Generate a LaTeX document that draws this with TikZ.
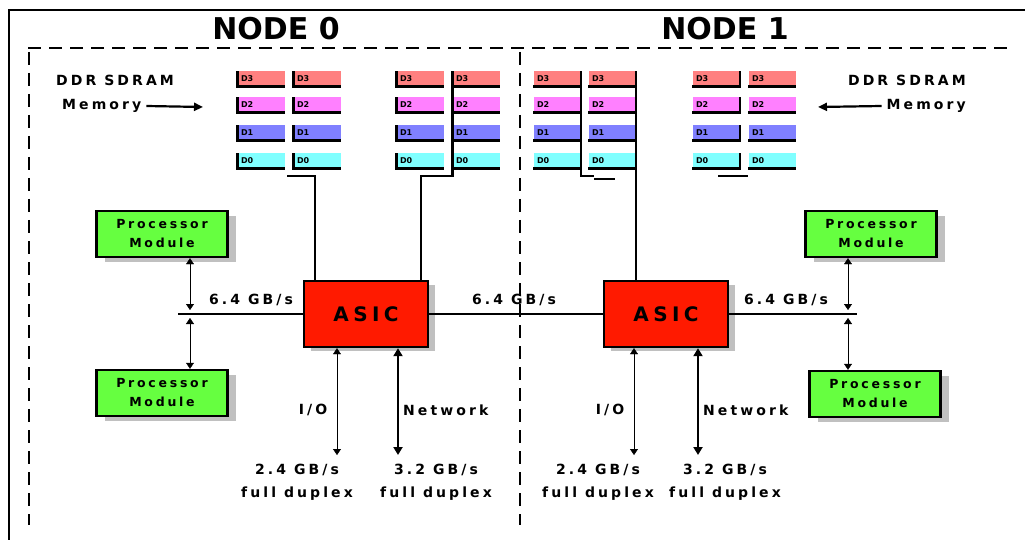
\documentclass[tikz,border=0pt]{standalone}
\usepackage{fontspec}
\setmainfont{DejaVu Sans}
\newfontfamily\bitfont[LetterSpace=22]{DejaVu Sans}
\usetikzlibrary{positioning, arrows.meta, shadows}
\definecolor{asiccol}{RGB}{255,26,0}
\definecolor{proccol}{RGB}{102,255,64}
\definecolor{shadecol}{RGB}{192,192,192}
\definecolor{rowAcol}{RGB}{255,128,128}
\definecolor{rowBcol}{RGB}{255,128,255}
\definecolor{rowCcol}{RGB}{128,128,255}
\definecolor{rowDcol}{RGB}{128,255,255}
\tikzset{
  asic/.style={draw, line width=2.4pt, fill=asiccol, minimum width=124pt,
               minimum height=66pt, inner sep=0pt,
               font=\bitfont\bfseries\fontsize{20}{22}\selectfont,
               drop shadow={shadow xshift=7pt, shadow yshift=-4pt,
                            fill=shadecol, opacity=1}},
  proc box/.style={draw, line width=2.4pt, fill=proccol, minimum width=131pt,
                   minimum height=46pt, inner sep=0pt, align=center,
                   font=\bitfont\bfseries\fontsize{12.5}{19}\selectfont,
                   drop shadow={shadow xshift=8pt, shadow yshift=-5pt,
                                fill=shadecol, opacity=1}},
  dimm/.style={minimum width=47pt, minimum height=15pt, inner sep=0pt,
               text width=40pt, align=left,
               font=\fontsize{8}{8}\selectfont\bfseries},
  dimm edge/.style={line width=2.4pt},
  title/.style={font=\bfseries\fontsize{30}{32}\selectfont},
  rate/.style={font=\bitfont\bfseries\fontsize{14}{23}\selectfont, inner sep=1pt},
  wire/.style={line width=2.4pt},
  bus/.style={line width=2.6pt},
  frame/.style={line width=2.6pt},
  node border/.style={line width=2.4pt, dash pattern=on 13pt off 8pt},
  mem arr/.style={-{Triangle[length=9pt, width=8pt]}, line width=2.2pt},
  tap arr/.style={{Triangle[length=6pt, width=8pt]}-{Triangle[length=6pt, width=8pt]},
                  line width=0.4pt},
  net arr/.style={{Triangle[length=8pt, width=9pt]}-{Triangle[length=8pt, width=9pt]},
                  line width=2.4pt},
}

\begin{document}
\begin{tikzpicture}[x=1pt, y=-1pt]
    \useasboundingbox (0,0) rectangle (1025,540);

    % outer frame and node borders
    \draw[frame] (1025,10) -- (9,10) -- (9,540);
    \draw[node border] (28,48) -- (1008,48);
    \draw[node border] (29,52) -- (29,525);
    \draw[node border, line width=1.8pt] (520,52) -- (520,525);
    \node[title] (title0) at (276,29) {NODE 0};
    \node[title] (title1) at (725,29) {NODE 1};

    % memory banks
    \foreach \r/\y/\c/\t in {1/79/rowAcol/D3, 2/105/rowBcol/D2, 3/133/rowCcol/D1, 4/161/rowDcol/D0} {
      \node[dimm, fill=\c] (m0a\r) at (261,\y) {\t};
      \node[dimm, fill=\c] (m0b\r) at (317,\y) {\t};
      \node[dimm, fill=\c] (m0c\r) at (420,\y) {\t};
      \node[dimm, fill=\c] (m0d\r) at (476,\y) {\t};
      \node[dimm, fill=\c] (m1a\r) at (557,\y) {\t};
      \node[dimm, fill=\c] (m1b\r) at (612,\y) {\t};
      \node[dimm, fill=\c] (m1c\r) at (716,\y) {\t};
      \node[dimm, fill=\c] (m1d\r) at (772,\y) {\t};
      \draw[dimm edge] (m0a\r.north west) |- (m0a\r.south east);
      \draw[dimm edge] (m0b\r.north west) |- (m0b\r.south east);
      \draw[dimm edge] (m0c\r.north west) |- (m0c\r.south east);
      \draw[dimm edge] (m0d\r.north west) |- (m0d\r.south east);
      \draw[dimm edge] (m1a\r.south west) -- (m1a\r.south east);
      \draw[dimm edge] (m1b\r.south west) -- (m1b\r.south east);
      \draw[dimm edge] (m1c\r.south west) -| (m1c\r.north east);
      \draw[dimm edge] (m1d\r.south west) -- (m1d\r.south east);
    }
    \node[rate, anchor=west] (mem0a) at (55,80) {DDR SDRAM};
    \node[rate, anchor=west] (mem0b) at (61,106) {Memory};
    \coordinate (mem0end) at (203,107);
    \draw[mem arr] (mem0b.east) ++(4,0) coordinate (mem0start) -- (mem0end);
    \node[rate, anchor=east] (mem1a) at (967,80) {DDR SDRAM};
    \node[rate, anchor=east] (mem1b) at (967,106) {Memory};
    \coordinate (mem1end) at (818,107);
    \draw[mem arr] (mem1b.west) ++(-4,0) coordinate (mem1start) -- (mem1end);

    % hub chips
    \node[asic] (asic0) at (366,314) {ASIC};
    \node[asic] (asic1) at (666,314) {ASIC};

    % memory wires
    \coordinate (w0a) at (287,176);
    \coordinate (j0a) at (315,176);
    \coordinate (j0b) at (421,176);
    \draw[wire] (w0a) -- (j0a) -- (j0a |- asic0.north);
    \draw[wire] (m0d1.north west) |- (j0b) -- (j0b |- asic0.north);
    \coordinate (j1a) at (594,176);
    \coordinate (s1a) at (594,179);
    \coordinate (s1b) at (615,179);
    \draw[wire] (m1a1.north east) |- (j1a);
    \draw[wire] (s1a) -- (s1b);
    \draw[wire] (m1b1.north east) -- (m1b1.north east |- asic1.north);
    \coordinate (s1c) at (718,176);
    \coordinate (s1d) at (748,176);
    \draw[wire] (s1c) -- (s1d);

    % processors
    \node[proc box] (pm0t) at (162,234) {Processor\\Module};
    \node[proc box] (pm0b) at (162,393) {Processor\\Module};
    \node[proc box] (pm1t) at (871,234) {Processor\\Module};
    \node[proc box] (pm1b) at (875,394) {Processor\\Module};

    % front side bus
    \coordinate (bus0) at (178,314);
    \coordinate (tap0) at (190,314);
    \coordinate (bus1) at (857,314);
    \coordinate (tap1) at (848,314);
    \draw[bus] (bus0) -- (asic0.west);
    \draw[bus] (asic0.east) -- (asic1.west);
    \draw[bus] (asic1.east) -- (bus1);
    \draw[tap arr, shorten >=4pt] (pm0t.south -| tap0) -- (tap0);
    \draw[tap arr, shorten >=4pt] (pm0b.north -| tap0) -- (tap0);
    \draw[tap arr, shorten >=4pt] (pm1t.south -| tap1) -- (tap1);
    \draw[tap arr, shorten >=4pt] (pm1b.north -| tap1) -- (tap1);
    \node[rate] (bw0) at (251,300) {6.4 GB/s};
    \node[rate] (bw01) at (514,300) {6.4 GB/s};
    \node[rate] (bw1) at (786,300) {6.4 GB/s};

    % I/O and network
    \coordinate (io0) at (337,455);
    \coordinate (net0) at (398,455);
    \coordinate (io1) at (634,455);
    \coordinate (net1) at (698,455);
    \draw[tap arr] (asic0.south -| io0) -- (io0);
    \draw[net arr] (asic0.south -| net0) -- (net0);
    \draw[tap arr] (asic1.south -| io1) -- (io1);
    \draw[net arr] (asic1.south -| net1) -- (net1);
    \node[rate] (io0 lbl) at (313,410) {I/O};
    \node[rate, anchor=west] (net0 lbl) at (402,410) {Network};
    \node[rate] (io1 lbl) at (610,410) {I/O};
    \node[rate, anchor=west] (net1 lbl) at (702,410) {Network};
    \node[rate, align=center] (io0 bw) at (297,482) {2.4 GB/s\\full duplex};
    \node[rate, align=center] (net0 bw) at (436,482) {3.2 GB/s\\full duplex};
    \node[rate, align=center] (io1 bw) at (598,482) {2.4 GB/s\\full duplex};
    \node[rate, align=center] (net1 bw) at (725,482) {3.2 GB/s\\full duplex};
\end{tikzpicture}
\end{document}
